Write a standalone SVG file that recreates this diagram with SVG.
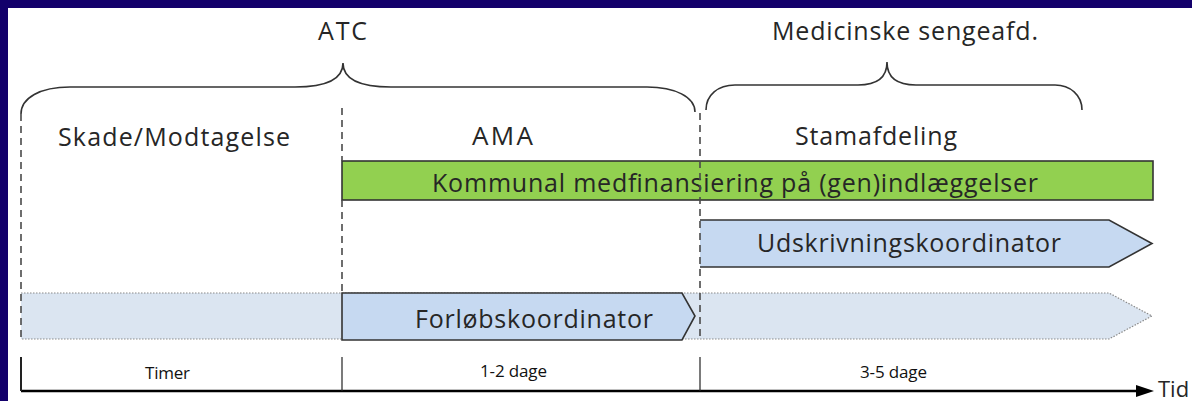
<svg xmlns="http://www.w3.org/2000/svg" width="1192" height="401" viewBox="0 0 1192 401">
<style>
text{font-family:"Open Sans","Liberation Sans",sans-serif;fill:#262626}
.big{font-size:25px}
.small{font-size:17px;fill:#111}
.brace{fill:none;stroke:#333;stroke-width:1.6}
.div{fill:none;stroke:#4a4a4a;stroke-width:1.6;stroke-dasharray:7 5}
.tick{fill:none;stroke:#222;stroke-width:1.2}
.bar{stroke:#333;stroke-width:1.6}
</style>
<defs>
<marker id="arr" viewBox="0 0 18 12" refX="0" refY="6" markerWidth="18" markerHeight="12" markerUnits="userSpaceOnUse" orient="auto">
<path d="M0,0 L18,6 L0,12 z" fill="#000"/>
</marker>
</defs>
<rect x="0" y="0" width="1192" height="401" fill="#ffffff"/>
<rect x="0" y="0" width="1192" height="8" fill="#13006b"/>
<rect x="0" y="0" width="8" height="401" fill="#13006b"/>

<g id="atc">
<path class="brace" d="M21,114 C21,98 40,87 70,87 L295,87 C325,87 343,80 343,63 C343,80 361,87 391,87 L647,87 C675,87 695,97 695,112"/>
<text class="big" x="318" y="40" textLength="49">ATC</text>
</g>
<g id="medicinske">
<path class="brace" d="M706,110 C706,95 718,85 735,85 L858,85 C876,85 887,78 887,62 C887,78 898,85 916,85 L1055,85 C1070,85 1082,95 1082,110"/>
<text class="big" x="772" y="40" textLength="266">Medicinske sengeafd.</text>
</g>
<g id="skade"><text class="big" x="58" y="146" textLength="232">Skade/Modtagelse</text></g>
<g id="ama"><text style="font-size:26px" x="472" y="145" textLength="61">AMA</text></g>
<g id="stamafdeling"><text class="big" x="795" y="145" textLength="162">Stamafdeling</text></g>

<g id="kommunal">
<rect class="bar" x="342" y="161" width="811" height="39" fill="#92d050"/>
<text class="big" x="432" y="192" textLength="606">Kommunal medfinansiering på (gen)indlæggelser</text>
</g>
<g id="udskrivning">
<path d="M700,220 L1109,220 L1152,243.5 L1109,267 L700,267 z" fill="#c6d9f1"/>
<path class="bar" d="M700,220 L1109,220 L1152,243.5 L1109,267 L700,267" fill="none"/>
<text class="big" x="757" y="252" textLength="304">Udskrivningskoordinator</text>
</g>
<g id="forloeb-baggrund">
<path d="M21,293 L1109,293 L1152,316 L1109,339 L21,339" fill="#dbe5f1" stroke="#8a8a8a" stroke-width="1.2" stroke-dasharray="1.5 1.5"/>
</g>
<g id="forloebskoordinator">
<path class="bar" d="M342,293 L682,293 L695,316 L682,340 L342,340 z" fill="#c6d9f1"/>
<text class="big" x="415" y="328" textLength="238">Forløbskoordinator</text>
</g>

<g id="dividers">
<line class="div" x1="21" y1="114" x2="21" y2="339"/>
<line class="div" x1="342" y1="108" x2="342" y2="161"/>
<line class="div" x1="342" y1="200" x2="342" y2="293"/>
<line class="div" x1="700" y1="113" x2="700" y2="339"/>
</g>

<g id="connectors">
<line x1="21" y1="391" x2="1136" y2="391" stroke="#000" stroke-width="2.5" marker-end="url(#arr)"/>
<line class="tick" x1="21" y1="357" x2="21" y2="391" style="stroke-width:2"/>
<line class="tick" x1="342" y1="357" x2="342" y2="391"/>
<line class="tick" x1="700" y1="357" x2="700" y2="391"/>
</g>

<g id="timeline-labels">
<text class="small" x="145" y="379" textLength="45">Timer</text>
<text class="small" x="480" y="377" textLength="67">1-2 dage</text>
<text class="small" x="860" y="378" textLength="67">3-5 dage</text>
<text style="font-size:22px" x="1158" y="397">Tid</text>
</g>
</svg>
